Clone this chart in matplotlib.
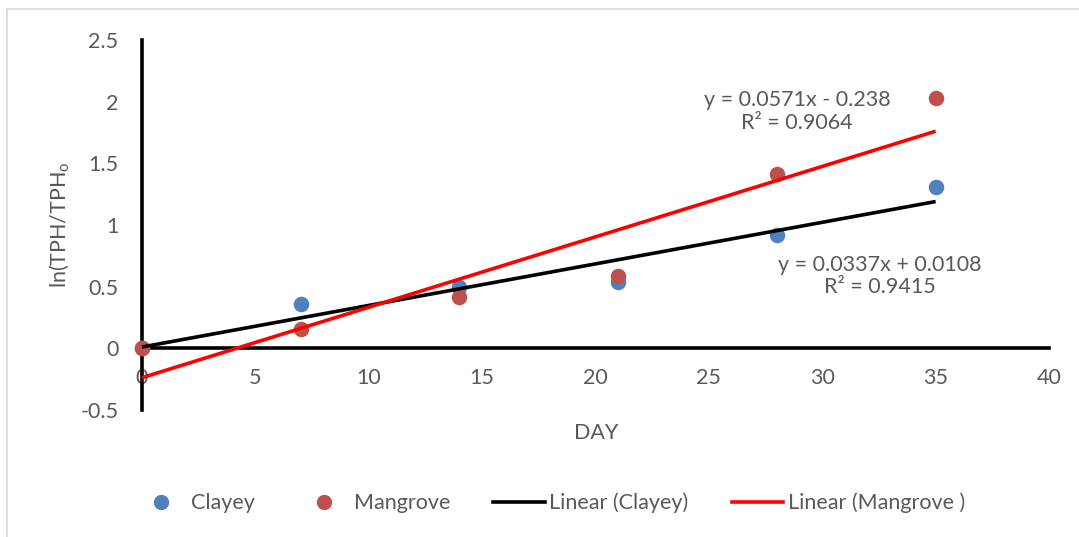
import matplotlib
matplotlib.use("Agg")
import matplotlib.pyplot as plt
from matplotlib.lines import Line2D
import numpy as np

plt.rcParams['font.family'] = ['Lato', 'DejaVu Sans']

# data
days = [0, 7, 14, 21, 28, 35]
clayey = [0.0, 0.36, 0.50, 0.54, 0.92, 1.31]
mangrove = [0.0, 0.155, 0.42, 0.59, 1.41, 2.03]

# Excel trendline coefficients (from the labels)
fit_clayey = (0.0337, 0.0108, 0.9415)
fit_mangrove = (0.0571, -0.238, 0.9064)

x_ticks = [0, 5, 10, 15, 20, 25, 30, 35, 40]
y_ticks = [-0.5, 0, 0.5, 1, 1.5, 2, 2.5]
y_tick_labels = ["-0.5", "0", "0.5", "1", "1.5", "2", "2.5"]

BLUE = "#4f81bd"
RED_PT = "#c0504d"
GREY = "#595959"
FS = 15.5

fig = plt.figure(figsize=(10.79, 5.37), dpi=100)
ax = fig.add_axes([142 / 1079, 1 - 410 / 537, (1049 - 142) / 1079, (410 - 40) / 537])

ax.scatter(days, clayey, s=125, color=BLUE, zorder=3, linewidths=0, clip_on=False)
ax.scatter(days, mangrove, s=125, color=RED_PT, zorder=4, linewidths=0, clip_on=False)

xs = np.array([days[0], days[-1]])
m, b, r2 = fit_clayey
ax.plot(xs, m * xs + b, color="black", lw=2.6, zorder=5, solid_capstyle="butt", clip_on=False)
m2, b2, r22 = fit_mangrove
ax.plot(xs, m2 * xs + b2, color="red", lw=2.6, zorder=6, solid_capstyle="butt", clip_on=False)

ax.text(28.9, 1.92, f"y = {m2}x - {abs(b2)}\nR² = {r22}", ha="center", va="center",
        fontsize=FS, color=GREY, linespacing=1.15, zorder=7)
ax.text(32.55, 0.585, f"y = {m}x + {b}\nR² = {r2}", ha="center", va="center",
        fontsize=FS, color=GREY, linespacing=1.15, zorder=7)

ax.set_xlim(0, 40)
ax.set_ylim(-0.5, 2.5)
ax.set_xticks(x_ticks)
ax.set_yticks(y_ticks)
ax.set_yticklabels(y_tick_labels)

for side in ["top", "right"]:
    ax.spines[side].set_visible(False)
ax.spines["left"].set_position(("data", 0))
ax.spines["bottom"].set_position(("data", 0))
ax.spines["left"].set_linewidth(2.6)
ax.spines["bottom"].set_linewidth(2.6)
ax.tick_params(axis="both", length=0, labelsize=FS, labelcolor=GREY)
ax.tick_params(axis="x", pad=14)
ax.tick_params(axis="y", pad=17)

fig.text(60 / 1079, 1 - 225 / 537, r"ln(TPH/TPH$_\mathregular{o}$", rotation=90,
         ha="center", va="center", fontsize=FS, color=GREY)
fig.text(596 / 1079, 1 - 433 / 537, "DAY", ha="center", va="center",
         fontsize=FS, color=GREY)

handles = [
    Line2D([], [], marker="o", ls="none", color=BLUE, markersize=10),
    Line2D([], [], marker="o", ls="none", color=RED_PT, markersize=10),
    Line2D([], [], color="black", lw=2.6),
    Line2D([], [], color="red", lw=2.6),
]
labels = ["Clayey", "Mangrove", "Linear (Clayey)", "Linear (Mangrove )"]
leg = fig.legend(handles, labels, loc="center", bbox_to_anchor=(550 / 1079, 1 - 503 / 537),
                 ncol=4, frameon=False, fontsize=FS, handlelength=2.4,
                 columnspacing=2.0, handletextpad=0.2)
for t in leg.get_texts():
    t.set_color(GREY)

# light grey chart-area border (top and left visible)
fig.add_artist(Line2D([7 / 1079, 1], [1 - 9 / 537, 1 - 9 / 537], color="#d9d9d9", lw=1.2))
fig.add_artist(Line2D([7 / 1079, 7 / 1079], [0, 1 - 9 / 537], color="#d9d9d9", lw=1.2))

fig.savefig("out.png", dpi=100)
